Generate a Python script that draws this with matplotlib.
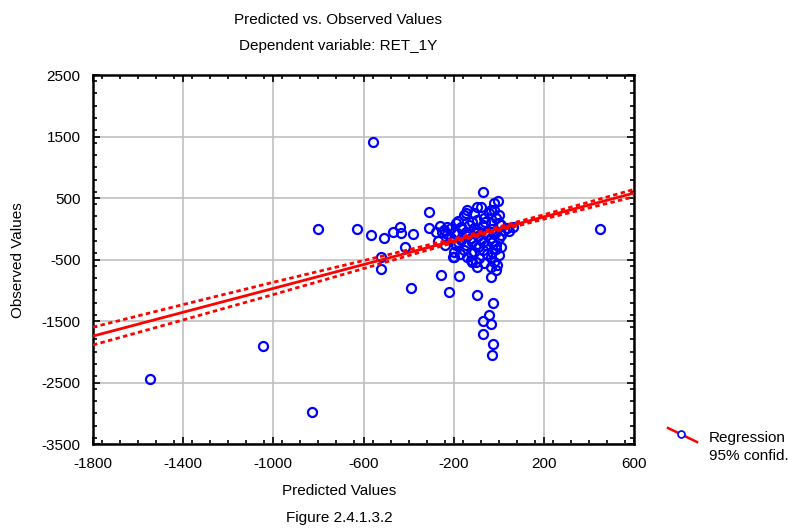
import numpy as np
import matplotlib
matplotlib.use('Agg')
from matplotlib import pyplot as plt
from matplotlib.ticker import MultipleLocator
from matplotlib.lines import Line2D

plt.rcParams['font.family'] = ['Liberation Sans', 'DejaVu Sans']
plt.rcParams['axes.unicode_minus'] = False

# scatter points (predicted, observed)
pred = [-1545, -1047, -827, -556, -800, -631, -566, -507, -468, -436,
        -433, -381, -416, -522, -522, -388, 450,
        -310, -310, -261, -243, -258, -221, -213, -184, -177, -95,
        -25, -43, -72, -36, -70, -25, -32, -36, -13, -124, -95, -36,
        -72, -5, -21, -95, -36, 1, -147, -80,
        -154, -139, -110, -43, -21, -13, -65, -95, -191, -228, -169, -132,
        -110, -72, -36, 9, 38, 61, -250, -199, -147, -102, -58, -13, 24,
        -213, -169, -124, -80, -36, 1, -191, -147, -102, -58, -13,
        -199, -154, -110, -72, -28, 9, -199, -139, -87, -36, 1,
        -102, -65, -21, -118, -6,
        -180, -120, -60, 0, -165, -90, -30, 10, -140, -90, -50, -180,
        -120, -70, -30, -170, -125, -50, -10, -90, -20, 45, -230, -240,
        -205, -280, -270]
obs = [-2443, -1901, -2974, 1410, 0, -9, -102, -155, -48, 24,
       -62, -90, -291, -464, -659, -968, 0,
       277, 7, 45, -20, -752, -1024, 7, -75, -770, -1070,
       -1212, -1402, -1495, -1549, -1705, -1868, -2060, -790, -670, -508, -617, -617,
       603, 455, 420, 349, 305, 224, 251, 359,
       224, 305, 251, 251, 305, 170, 170, 142, 88, 34, 34, 61,
       7, 61, 88, 61, 7, 34, -48, -75, -48, -75, -48, -48, -20,
       -155, -183, -155, -183, -155, -155, -264, -264, -264, -264, -264,
       -373, -346, -373, -346, -373, -291, -454, -454, -480, -454, -427,
       -535, -562, -535, -540, -590,
       120, 115, 110, 100, -10, -30, -10, -100, -110, -120, -100, -220,
       -210, -220, -210, -410, -400, -410, -330, -300, -90, -40, -90, -270,
       -460, -60, -200]

# fitted line and 95% band half-width
reg_x = [-1800, 600]
reg_y = [-1745, 580]
band_x = [-1800, -1400, -1000, -600, -200, 200, 600]
band_half = [145, 125, 100, 65, 30, 35, 60]

x_ticks = [-1800, -1400, -1000, -600, -200, 200, 600]
y_ticks = [-3500, -2500, -1500, -500, 500, 1500, 2500]

W, H = 788, 528
fig = plt.figure(figsize=(W / 100, H / 100), dpi=100)
ax = fig.add_axes([93 / W, 1 - 444 / H, (634 - 93) / W, (444 - 75) / H])

ax.plot(pred, obs, 'o', mfc='none', mec='blue', ms=6.5, mew=1.6, zorder=3)

ax.plot(reg_x, reg_y, color='red', lw=2.0, zorder=4)
band_c = np.interp(band_x, reg_x, reg_y)
band_h = np.array(band_half)
for sgn in (1, -1):
    ax.plot(band_x, band_c + sgn * band_h, color='red', lw=2.0,
            ls=(0, (1.6, 1.2)), zorder=4)

ax.set_xlim(-1800, 600)
ax.set_ylim(-3500, 2500)
ax.set_xticks(x_ticks)
ax.set_yticks(y_ticks)
ax.xaxis.set_minor_locator(MultipleLocator(80))
ax.yaxis.set_minor_locator(MultipleLocator(200))
ax.grid(True, which='major', color='#c0c0c0', lw=1.2)
ax.set_axisbelow(True)
fs = 11
ax.tick_params(which='both', direction='in', top=True, right=True,
               width=1.2, labelsize=fs, pad=9)
ax.tick_params(which='major', length=5)
ax.tick_params(which='minor', length=3)
for sp in ax.spines.values():
    sp.set_linewidth(1.8)

fig.text(338 / W, 1 - 20 / H, 'Predicted vs. Observed Values', ha='center', va='center', fontsize=fs)
fig.text(338 / W, 1 - 46 / H, 'Dependent variable: RET_1Y', ha='center', va='center', fontsize=fs)
fig.text(339 / W, 1 - 491 / H, 'Predicted Values', ha='center', va='center', fontsize=fs)
fig.text(339 / W, 1 - 518 / H, 'Figure 2.4.1.3.2', ha='center', va='center', fontsize=fs)
fig.text(18 / W, 1 - 260 / H, 'Observed Values', ha='center', va='center',
         rotation=90, fontsize=fs)

# legend drawn by hand
fig.add_artist(Line2D([668 / W, 697 / W], [1 - 428 / H, 1 - 442 / H], color='red', lw=1.8))
fig.add_artist(Line2D([681 / W], [1 - 434 / H], marker='o', mfc='white', mec='blue',
                      ms=5, mew=1.2))
fig.text(709 / W, 1 - 438 / H, 'Regression', ha='left', va='center', fontsize=fs)
fig.text(709 / W, 1 - 456 / H, '95% confid.', ha='left', va='center', fontsize=fs)

fig.savefig('out.png', dpi=100)
